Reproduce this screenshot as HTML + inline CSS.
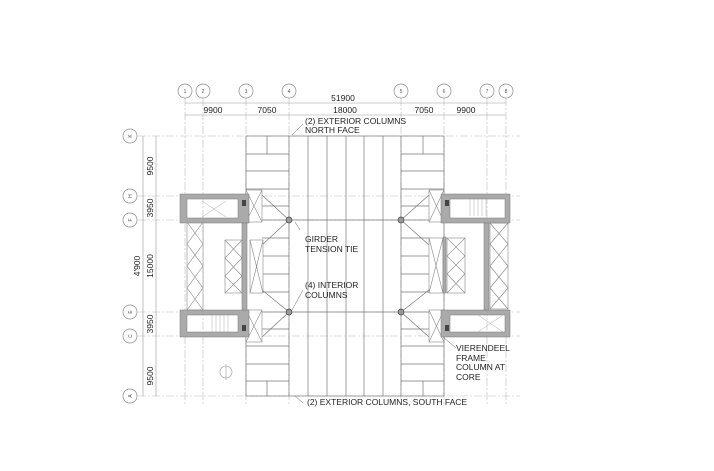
<!DOCTYPE html>
<html><head><style>body{margin:0;background:#fff}svg{display:block}</style></head><body>
<svg width="714" height="471" viewBox="0 0 714 471" xmlns="http://www.w3.org/2000/svg" font-family="Liberation Sans, sans-serif">
<g stroke="#bbb" stroke-width="0.6" stroke-dasharray="8 2 2 2" fill="none">
<line x1="185" y1="98" x2="185" y2="405"/><line x1="203" y1="98" x2="203" y2="405"/>
<line x1="246" y1="98" x2="246" y2="405"/><line x1="289" y1="98" x2="289" y2="405"/>
<line x1="401" y1="98" x2="401" y2="405"/><line x1="444" y1="98" x2="444" y2="405"/>
<line x1="487" y1="98" x2="487" y2="405"/><line x1="506" y1="98" x2="506" y2="405"/>
<line x1="138" y1="136" x2="520" y2="136"/><line x1="138" y1="196" x2="520" y2="196"/>
<line x1="138" y1="220" x2="520" y2="220"/><line x1="138" y1="312" x2="520" y2="312"/>
<line x1="138" y1="336" x2="520" y2="336"/><line x1="138" y1="396" x2="520" y2="396"/>
</g>
<g stroke="#888" stroke-width="0.7" fill="#fff">
<circle cx="185" cy="91" r="7"/><circle cx="203" cy="91" r="7"/><circle cx="246" cy="91" r="7"/><circle cx="289" cy="91" r="7"/>
<circle cx="401" cy="91" r="7"/><circle cx="444" cy="91" r="7"/><circle cx="487" cy="91" r="7"/><circle cx="506" cy="91" r="7"/>
<circle cx="130" cy="136" r="7"/><circle cx="130" cy="196" r="7"/><circle cx="130" cy="220" r="7"/>
<circle cx="130" cy="312" r="7"/><circle cx="130" cy="336" r="7"/><circle cx="130" cy="396" r="7"/>
</g>
<g font-size="5" fill="#555" text-anchor="middle">
<text x="185" y="93">1</text><text x="203" y="93">2</text><text x="246" y="93">3</text><text x="289" y="93">4</text>
<text x="401" y="93">5</text><text x="444" y="93">6</text><text x="487" y="93">7</text><text x="506" y="93">8</text>
<text transform="translate(132,136) rotate(-90)">K</text><text transform="translate(132,196) rotate(-90)">H</text>
<text transform="translate(132,220) rotate(-90)">F</text><text transform="translate(132,312) rotate(-90)">E</text>
<text transform="translate(132,336) rotate(-90)">C</text><text transform="translate(132,396) rotate(-90)">A</text>
</g>
<g stroke="#999" stroke-width="0.6">
<line x1="185" y1="103" x2="506" y2="103"/><line x1="185" y1="115" x2="506" y2="115"/>
<line x1="143" y1="136" x2="143" y2="396"/><line x1="156" y1="136" x2="156" y2="396"/>
</g>
<g font-size="8.5" fill="#222" text-anchor="middle">
<text x="343" y="101">51900</text>
<text x="213" y="113">9900</text><text x="267" y="113">7050</text><text x="345" y="113">18000</text>
<text x="424" y="113">7050</text><text x="466" y="113">9900</text>
<text transform="translate(153,166) rotate(-90)">9500</text>
<text transform="translate(153,208) rotate(-90)">3950</text>
<text transform="translate(153,266) rotate(-90)">15000</text>
<text transform="translate(140,266) rotate(-90)">4'900</text>
<text transform="translate(153,324) rotate(-90)">3950</text>
<text transform="translate(153,376) rotate(-90)">9500</text>
</g>
<!-- floor plate -->
<g stroke="#777" stroke-width="0.7" fill="none">
<rect x="246" y="136" width="198" height="260"/>
<line x1="289" y1="136" x2="289" y2="396"/><line x1="308" y1="136" x2="308" y2="396"/>
<line x1="327" y1="136" x2="327" y2="396"/><line x1="346" y1="136" x2="346" y2="396"/>
<line x1="364" y1="136" x2="364" y2="396"/><line x1="383" y1="136" x2="383" y2="396"/>
<line x1="401" y1="136" x2="401" y2="396"/>
<line x1="246" y1="220" x2="444" y2="220"/><line x1="246" y1="312" x2="444" y2="312"/>
<path d="M246 154H289M246 171H289M246 189H289M262 206H289M262 238H289M262 256H289M262 274H289M262 292H289M262 329H289M246 346H289M246 364H289M246 381H289"/>
<path d="M401 154H444M401 171H444M401 189H444M401 206H429M401 238H429M401 256H429M401 274H429M401 292H429M401 329H429M401 346H444M401 364H444M401 381H444"/>
<path d="M267 136V154M267 381V396M423 136V154M423 381V396"/>
<!-- diagonals -->
<path d="M289 220L262 195M289 220L262 245M289 312L262 290M289 312L262 337"/>
<path d="M401 220L429 195M401 220L429 245M401 312L429 290M401 312L429 337"/>
</g>
<!-- left core -->
<g stroke="#888" stroke-width="0.6" fill="#fff">
<rect x="246" y="190" width="16" height="32"/><path d="M246 190L262 222M262 190L246 222"/>
<rect x="246" y="310" width="16" height="32"/><path d="M246 310L262 342M262 310L246 342"/>
<rect x="250" y="240" width="13" height="53"/><path d="M250 240L263 293M263 240L250 293"/>
<rect x="187" y="222" width="16" height="88"/><path d="M187 222L203 244M203 222L187 244M187 244L203 266M203 244L187 266M187 266L203 288M203 266L187 288M187 288L203 310M203 288L187 310"/>
<rect x="225" y="240" width="17" height="53"/><path d="M225 240L242 258M242 240L225 258M225 258L242 276M242 258L225 276M225 276L242 293M242 276L225 293"/>
<rect x="444" y="190" width="-0" height="0"/>
<rect x="429" y="190" width="15" height="32"/><path d="M429 190L444 222M444 190L429 222"/>
<rect x="429" y="310" width="15" height="32"/><path d="M429 310L444 342M444 310L429 342"/>
<rect x="429" y="238" width="14" height="55"/><path d="M429 238L443 293M443 238L429 293"/>
<rect x="447" y="238" width="18" height="55"/><path d="M447 238L465 256M465 238L447 256M447 256L465 274M465 256L447 274M447 274L465 293M465 274L447 293"/>
<rect x="490" y="223" width="18" height="86"/><path d="M490 223L508 244M508 223L490 244M490 244L508 266M508 244L490 266M490 266L508 288M508 266L490 288M490 288L508 309M508 288L490 309"/>
</g>
<g fill="#aaa" stroke="#777" stroke-width="0.5">
<path fill-rule="evenodd" d="M180 194H249V223H180Z M187 199H238V218H187Z"/>
<path fill-rule="evenodd" d="M180 310H249V337H180Z M187 315H238V332H187Z"/>
<rect x="242" y="223" width="5" height="87"/>
<path fill-rule="evenodd" d="M441 194H510V223H441Z M450 199H505V218H450Z"/>
<path fill-rule="evenodd" d="M441 310H510V337H441Z M450 315H505V332H450Z"/>
<rect x="484" y="223" width="5" height="87"/><rect x="443" y="237" width="3" height="56"/>
</g>
<g stroke="#aaa" stroke-width="0.5"><path d="M202 201L226 217M226 201L202 217M478 315L503 332M503 315L478 332"/>
<path d="M212 315V332M216 315V332M220 315V332M224 315V332M228 315V332M470 199V216M474 199V216M478 199V216M482 199V216M486 199V216"/></g>
<g fill="#444"><rect x="242" y="200" width="4" height="6"/><rect x="242" y="325" width="4" height="6"/><rect x="445" y="200" width="4" height="6"/><rect x="445" y="325" width="4" height="6"/></g>
<g stroke="#444" fill="#999" stroke-width="0.7">
<circle cx="289" cy="220" r="3"/><circle cx="401" cy="220" r="3"/><circle cx="289" cy="312" r="3"/><circle cx="401" cy="312" r="3"/>
</g>
<circle cx="226" cy="372" r="6" fill="none" stroke="#999" stroke-width="0.6"/><line x1="226" y1="364" x2="226" y2="380" stroke="#999" stroke-width="0.6"/>
<g stroke="#666" stroke-width="0.5" fill="none">
<path d="M303 124L292 135M300 230L295 222M303 290L292 310M456 348L443 337M303 403L295 396"/>
</g>
<g font-size="8.5" fill="#222">
<text x="305" y="124">(2) EXTERIOR COLUMNS</text><text x="305" y="133">NORTH FACE</text>
<text x="305" y="242">GIRDER</text><text x="305" y="252">TENSION TIE</text>
<text x="305" y="288">(4) INTERIOR</text><text x="305" y="298">COLUMNS</text>
<text x="456" y="351">VIERENDEEL</text><text x="456" y="361">FRAME</text><text x="456" y="370">COLUMN AT</text><text x="456" y="380">CORE</text>
<text x="307" y="405">(2) EXTERIOR COLUMNS, SOUTH FACE</text>
</g>
</svg>
</body></html>
